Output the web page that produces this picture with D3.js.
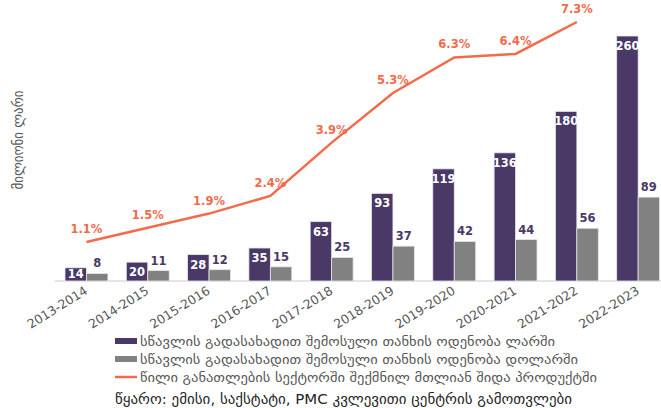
<!DOCTYPE html>
<html>
<head>
<meta charset="utf-8">
<script src="https://cdn.jsdelivr.net/npm/d3@7"></script>
<style>
    body { margin: 0; background: #fff; }
    svg { font-family: "DejaVu Sans", sans-serif; }
</style>
</head>
<body>
<div id="chart"></div>
<script>
// data
let years = ["2013-2014", "2014-2015", "2015-2016", "2016-2017", "2017-2018",
             "2018-2019", "2019-2020", "2020-2021", "2021-2022", "2022-2023"];
let gel = [14, 20, 28, 35, 63, 93, 119, 136, 180, 260];
let usd = [8, 11, 12, 15, 25, 37, 42, 44, 56, 89];
let share = [1.1, 1.5, 1.9, 2.4, 3.9, 5.3, 6.3, 6.4, 7.3, null];
let legendLabels = [
    "სწავლის გადასახადით შემოსული თანხის ოდენობა ლარში",
    "სწავლის გადასახადით შემოსული თანხის ოდენობა დოლარში",
    "წილი განათლების სექტორში შექმნილ მთლიან შიდა პროდუქტში"
];
let sourceText = "წყარო: ემისი, საქსტატი, PMC კვლევითი ცენტრის გამოთვლები";
let yTitle = "მილიონი ლარი";

let purple = "#4a3966", grey = "#818181", orange = "#f26b4a";

let width = 661, height = 408;
let base = 281;

let svg = d3.select("#chart").append("svg")
    .attr("width", width)
    .attr("height", height);

let x = d3.scaleBand()
    .domain(years)
    .range([55.8, 668.8])
    .paddingInner(0.3)
    .paddingOuter(0.15);

let sub = d3.scaleBand()
    .domain(["gel", "usd"])
    .range([0, x.bandwidth()]);

let y = d3.scaleLinear().domain([0, 260]).range([base, 36]);
let y2 = d3.scaleLinear().domain([0, 7.3]).range([base, 22]);

// baseline
svg.append("line")
    .attr("x1", 55).attr("x2", width)
    .attr("y1", base).attr("y2", base)
    .attr("stroke", "#dcdcdc").attr("stroke-width", 1.5);

let groups = svg.selectAll("g.year")
    .data(years)
    .enter().append("g")
    .attr("class", "year")
    .attr("transform", d => "translate(" + x(d) + ",0)");

groups.append("rect")
    .attr("x", sub("gel"))
    .attr("y", (d, i) => y(gel[i]))
    .attr("width", sub.bandwidth())
    .attr("height", (d, i) => base - y(gel[i]))
    .attr("fill", purple)
    .attr("stroke", "#e8e6ee").attr("stroke-width", 0.8);

groups.append("rect")
    .attr("x", sub("usd"))
    .attr("y", (d, i) => y(usd[i]))
    .attr("width", sub.bandwidth())
    .attr("height", (d, i) => base - y(usd[i]))
    .attr("fill", grey)
    .attr("stroke", "#e6e6e6").attr("stroke-width", 0.8);

groups.append("text")
    .attr("x", sub("gel") + sub.bandwidth() / 2)
    .attr("y", (d, i) => Math.min(y(gel[i]) + 14, base - 3))
    .attr("text-anchor", "middle")
    .attr("fill", "#fff")
    .attr("font-size", 11.5)
    .attr("font-weight", "bold")
    .text((d, i) => gel[i]);

groups.append("text")
    .attr("x", sub("usd") + sub.bandwidth() / 2)
    .attr("y", (d, i) => y(usd[i]) - 6)
    .attr("text-anchor", "middle")
    .attr("fill", purple)
    .attr("font-size", 11.5)
    .attr("font-weight", "bold")
    .text((d, i) => usd[i]);

// share line
let pts = years.map((d, i) => [x(d) + x.bandwidth() / 2, share[i]])
    .filter(p => p[1] != null);

svg.append("path")
    .datum(pts)
    .attr("fill", "none")
    .attr("stroke", orange)
    .attr("stroke-width", 2.5)
    .attr("d", d3.line().x(p => p[0]).y(p => y2(p[1])));

svg.selectAll("text.pct")
    .data(pts)
    .enter().append("text")
    .attr("class", "pct")
    .attr("x", p => p[0])
    .attr("y", p => y2(p[1]) - 9)
    .attr("text-anchor", "middle")
    .attr("fill", orange)
    .attr("font-size", 11.5)
    .attr("font-weight", "bold")
    .text(p => p[1].toFixed(1) + "%");

// x axis labels
svg.selectAll("text.tick")
    .data(years)
    .enter().append("text")
    .attr("class", "tick")
    .attr("transform", d => "translate(" + (x(d) + x.bandwidth() / 2 + 2) + "," + (base + 12) + ") rotate(-32)")
    .attr("text-anchor", "end")
    .attr("fill", "#595959")
    .attr("font-size", 12.5)
    .text(d => d);

// y title - georgian glyphs in the reference run wider, so pin the length
svg.append("text")
    .attr("transform", "translate(23,140) rotate(-90)")
    .attr("text-anchor", "middle")
    .attr("fill", "#595959")
    .attr("font-size", 13.5)
    .attr("textLength", 99)
    .attr("lengthAdjust", "spacingAndGlyphs")
    .text(yTitle);

// legend
let legendLen = [415, 438, 457];
let legend = svg.append("g").attr("transform", "translate(115,341)");
legendLabels.forEach(function(lab, i) {
    let row = legend.append("g").attr("transform", "translate(0," + (i * 18) + ")");
    if (i < 2) {
        row.append("rect")
            .attr("x", 0).attr("y", -3)
            .attr("width", 22).attr("height", 6)
            .attr("fill", i === 0 ? purple : grey);
    } else {
        row.append("line")
            .attr("x1", 0).attr("x2", 22)
            .attr("y1", 0).attr("y2", 0)
            .attr("stroke", orange).attr("stroke-width", 2.5);
    }
    row.append("text")
        .attr("x", 25).attr("y", 4.5)
        .attr("fill", "#595959")
        .attr("font-size", 13)
        .attr("textLength", legendLen[i])
        .attr("lengthAdjust", "spacingAndGlyphs")
        .text(lab);
});

svg.append("text")
    .attr("x", 115).attr("y", 404)
    .attr("fill", "#262626")
    .attr("font-size", 14.5)
    .attr("textLength", 457)
    .attr("lengthAdjust", "spacingAndGlyphs")
    .text(sourceText);
</script>
</body>
</html>
